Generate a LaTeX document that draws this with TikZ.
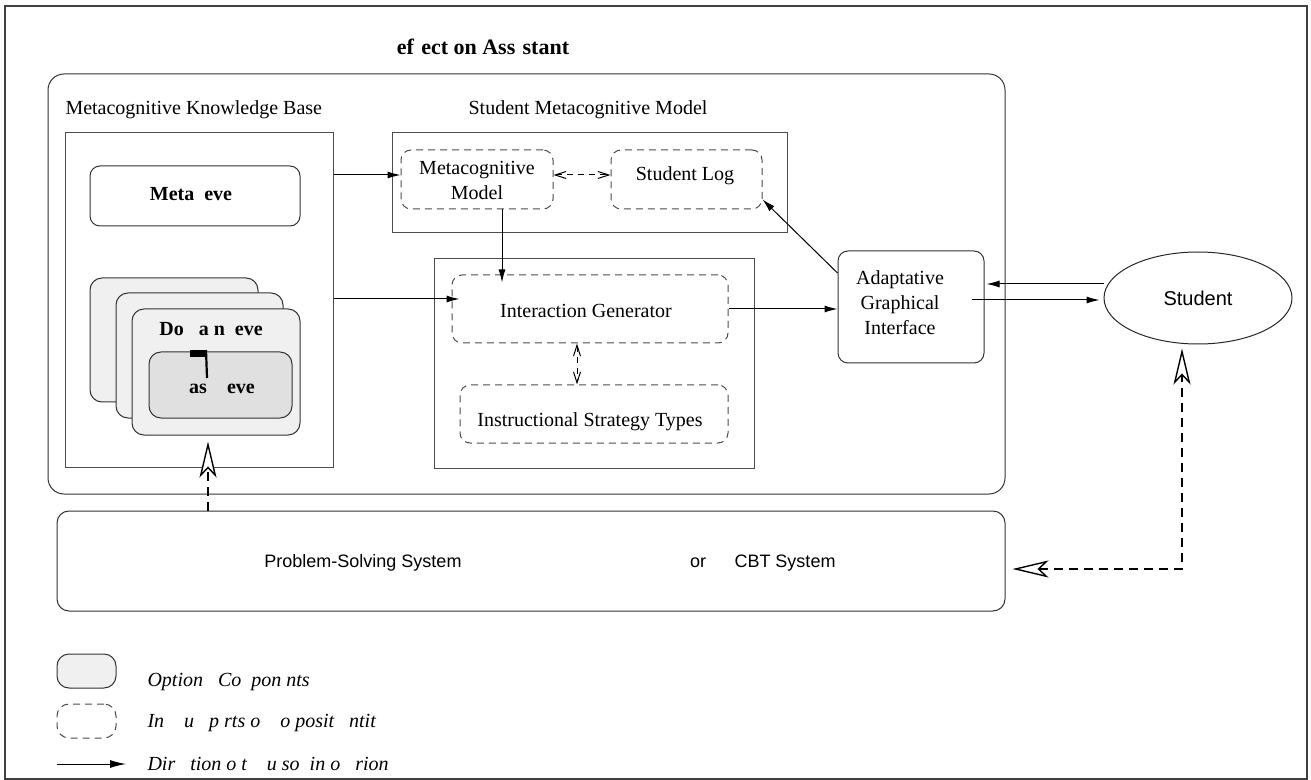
\documentclass[tikz,border=0pt]{standalone}
\usepackage{fontspec}
\setmainfont{Liberation Serif}
\setsansfont{Liberation Sans}
\usetikzlibrary{arrows.meta,shapes.geometric,fit,calc}
\begin{document}
\begin{tikzpicture}[x=0.5pt,y=-0.5pt,line width=0.5pt,
  frame/.style={draw=black!75,line width=0.8pt},
  boxs/.style={draw=black!70,inner sep=0pt},
  rbox/.style={draw=black!80,rounded corners=5pt,inner sep=0pt},
  dbox/.style={draw=black!70,dash pattern=on 3.5pt off 2.5pt,rounded corners=5pt,inner sep=0pt},
  serif/.style={font=\fontsize{10}{12.5}\selectfont,inner sep=0pt},
  bserif/.style={font=\fontsize{10}{12.5}\selectfont\bfseries,inner sep=0pt},
  sansnine/.style={font=\sffamily\fontsize{9}{11}\selectfont,inner sep=0pt},
  legtext/.style={font=\fontsize{10}{12}\selectfont\itshape,inner sep=0pt,anchor=west},
  flow/.style={draw=black,-{Latex[length=6.5pt,width=3.5pt]}},
  dflow/.style={draw=black,dash pattern=on 3pt off 2.5pt,{Straight Barb[length=5.5pt,width=3.5pt]}-{Straight Barb[length=5.5pt,width=3.5pt]}},
  bigopen/.tip={Stealth[open,fill=white,length=18pt,width=8.5pt,inset=4.5pt,line width=0.7pt]},
  bigdash/.style={draw=black,line width=0.6pt,dash pattern=on 4.5pt off 3pt}
]
\useasboundingbox (0,0) rectangle (1311,780);
\draw[frame] (5,6) rectangle (1307,779);

% helper coordinates
\coordinate (y175) at (0,175);
\coordinate (y299) at (0,299);
\coordinate (y273) at (0,273);
\coordinate (y284) at (0,284);
\coordinate (y300) at (0,300);
\coordinate (y569) at (0,569);
\coordinate (x502) at (502,0);
\coordinate (x577) at (577,0);
\coordinate (x208) at (208,0);
\coordinate (x1182) at (1182,0);

\node[font=\fontsize{11}{13}\selectfont\bfseries,inner sep=0pt] (title) at (483,47) {ef\,\,ect on Ass\,\,stant};

\node[rbox,rounded corners=8pt,fit={(48,74)(1005,494)}] (ra) {};

% knowledge base
\node[serif,anchor=west] (kblab) at (65,110) {Metacognitive Knowledge Base};
\node[boxs,fit={(65,133)(333,467)}] (kb) {};
\node[rbox,fit={(90,166)(300,226)}] (meta) {};
\node[bserif] (metalab) at (191,194) {Meta\ \ eve};
\node[rbox,fill=black!6,fit={(90,278)(258,402)},rounded corners=6pt] (d1) {};
\node[rbox,fill=black!6,fit={(116,293)(283,418)},rounded corners=6pt] (d2) {};
\node[rbox,fill=black!6,fit={(132,309)(300,435)},rounded corners=6pt] (d3) {};
\node[bserif] (dlab) at (211,329) {Do\ \ \ a n\ \ eve};
\node[rbox,fill=black!12,fit={(149,352)(292,418)},rounded corners=6pt] (task) {};
\node[bserif] (tlab) at (222,389) {as\ \ \ \ eve};
\fill (190,350) rectangle (205,357);
\draw[line width=1.1pt] (206,350) -- (207,378);

% student metacognitive model
\node[serif] (smlab) at (588,110) {Student Metacognitive Model};
\node[boxs,fit={(392,133)(787,233)}] (smm) {};
\node[dbox,fit={(401,150)(553,209)}] (mm) {};
\node[serif,align=center] (mmlab) at (477,180) {Metacognitive\\Model};
\node[dbox,fit={(611,150)(762,209)}] (slog) {};
\node[serif] (sloglab) at (685,176) {Student Log};

% interaction / strategies
\node[boxs,fit={(434,259)(754,468)}] (isbox) {};
\node[dbox,fit={(452,275)(728,343)}] (ig) {};
\node[serif] (iglab) at (586,311) {Interaction Generator};
\node[dbox,fit={(460,385)(728,443)}] (ist) {};
\node[serif] (istlab) at (590,422) {Instructional Strategy Types};

% interface and student
\node[rbox,fit={(838,251)(984,363)}] (agi) {};
\node[serif,align=center] (agilab) at (900,303) {Adaptative\\Graphical\\Interface};
\node[ellipse,draw=black!85,minimum width=94pt,minimum height=46pt,inner sep=0pt,font=\sffamily\fontsize{10}{12}\selectfont] (stu) at (1198,298) {Student};

% problem solving system
\node[rbox,rounded corners=6pt,fit={(57,511)(1005,611)}] (ps) {};
\node[sansnine] (pslab) at (363,563) {Problem-Solving System};
\node[sansnine] (orlab) at (698,563) {or};
\node[sansnine] (cbtlab) at (785,563) {CBT System};

% connectors
\draw[flow] (kb.east |- y175) -- (mm.west |- y175);
\draw[dflow] (mm.east |- y175) -- (slog.west |- y175);
\draw[flow] (mm.south -| x502) -- ($(ig.north -| x502)+(0,8)$);
\draw[flow] (kb.east |- y299) -- ($(ig.west |- y299)+(8,0)$);
\draw[flow] (ig.east) -- (agi.west |- ig.east);
\draw[dflow] (ig.south -| x577) -- (ist.north -| x577);
\draw[flow] (agi.west |- y273) -- ($(slog.south east)+(0,-10)$);
\draw[flow] (stu.west |- y284) -- ($(agi.east |- y284)+(2,0)$);
\coordinate (agiout) at (972,300);
\draw[flow] (agiout) -- ($(stu.west |- y300)+(-4,0)$);
\draw[bigdash,-{bigopen}] (ps.north -| x208) -- ($(d3.south -| x208)+(0,6)$);
\draw[bigdash,{bigopen}-{bigopen}] ($(ps.east |- y569)+(7,0)$) -| ($(stu.south -| x1182)+(0,4)$);

% legend
\node[rbox,fill=black!6,fit={(57,654)(116,688)},rounded corners=6pt] (lg1) {};
\node[dbox,fit={(57,704)(116,738)},rounded corners=6pt] (lg2) {};
\coordinate (la1) at (57,764);
\coordinate (la2) at (126,764);
\draw[draw=black,-{Latex[length=8pt,width=4pt]}] (la1) -- (la2);
\node[legtext] (lt1) at (147,682) {Option\ \ \ Co\ \ pon\ nts};
\node[legtext] (lt2) at (147,723) {In\ \ \ \ u\ \ \ p\ rts o\ \ \ \ o\ posit\ \ \ ntit};
\node[legtext] (lt3) at (147,764) {Dir\ \ \ tion o\ t\ \ \ \ u\ so\ \ in o\ \ \ rion};
\end{tikzpicture}
\end{document}
